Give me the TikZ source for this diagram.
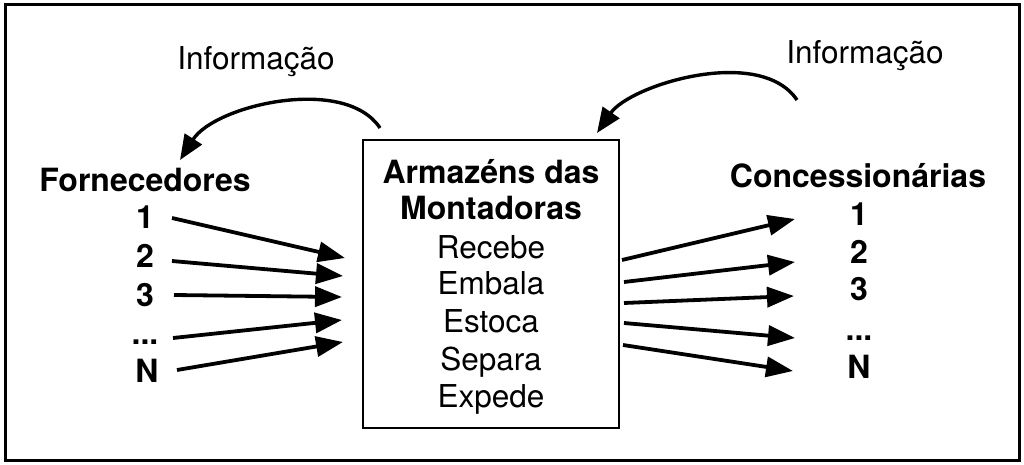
\documentclass[tikz,border=0pt]{standalone}
\usepackage{fontspec}
\setmainfont{TeX Gyre Heros}
\usetikzlibrary{arrows.meta}
\tikzset{
  lbl/.style={font=\fontsize{31.5}{37.5}\selectfont, inner sep=0pt, anchor=base},
  head/.style={font=\fontsize{32}{38}\selectfont\bfseries, inner sep=0pt, anchor=base},
  arr/.style={line width=3.8pt, -{Triangle[length=27pt,width=20pt]}},
  arc/.style={line width=3.4pt, -{Triangle[length=25pt,width=20pt]}},
  frame/.style={line width=3pt},
  boxst/.style={draw, line width=2pt, minimum width=256pt, minimum height=288pt, inner sep=0pt}
}
\begin{document}
\begin{tikzpicture}[x=1pt,y=-1pt]
\useasboundingbox (0,0) rectangle (1024,465);
\draw[frame] (5,5) rectangle (1019,460);

\node[boxst] (box) at (491,284) {};
\node[head] (t1) at (491,183) {Armazéns das};
\node[head] (t2) at (491,219) {Montadoras};
\node[lbl] (t3) at (491,258) {Recebe};
\node[lbl] (t4) at (491,294) {Embala};
\node[lbl] (t5) at (491,332) {Estoca};
\node[lbl] (t6) at (491,370) {Separa};
\node[lbl] (t7) at (491,407) {Expede};

\node[head] (forn) at (145,191) {Fornecedores};
\node[head] (f1) at (145,228) {1};
\node[head] (f2) at (145,267) {2};
\node[head] (f3) at (145,306) {3};
\node[head] (f4) at (145,344) {...};
\node[head] (f5) at (147,382) {N};

\node[head] (conc) at (858,187) {Concessionárias};
\node[head] (c1) at (859,225) {1};
\node[head] (c2) at (859,263) {2};
\node[head] (c3) at (859,300) {3};
\node[head] (c4) at (859,340) {...};
\node[head] (c5) at (859,378) {N};

\node[lbl] (infoL) at (256,70) {Informação};
\node[lbl] (infoR) at (865,64) {Informação};

% left arrows
\draw[arr] (172,218) coordinate (fs1) -- (345,258) coordinate (fe1);
\draw[arr] (172,261) coordinate (fs2) -- (343,276) coordinate (fe2);
\draw[arr] (174,295) coordinate (fs3) -- (342,297) coordinate (fe3);
\draw[arr] (173,338) coordinate (fs4) -- (342,320) coordinate (fe4);
\draw[arr] (177,370) coordinate (fs5) -- (343,342) coordinate (fe5);

% right arrows
\draw[arr] (622,260) coordinate (cs1) -- (795,219) coordinate (ce1);
\draw[arr] (624,282) coordinate (cs2) -- (795,262) coordinate (ce2);
\draw[arr] (624,303) coordinate (cs3) -- (794,296) coordinate (ce3);
\draw[arr] (624,323) coordinate (cs4) -- (795,338) coordinate (ce4);
\draw[arr] (623,345) coordinate (cs5) -- (793,371) coordinate (ce5);

% information arcs
\coordinate (aLs) at (380,128);
\coordinate (aLe) at (180,160);
\draw[arc] (aLs) .. controls (345,75) and (215,105) .. (aLe);
\coordinate (aRs) at (797,100);
\coordinate (aRe) at (597,133);
\draw[arc] (aRs) .. controls (760,45) and (630,85) .. (aRe);
\end{tikzpicture}
\end{document}
